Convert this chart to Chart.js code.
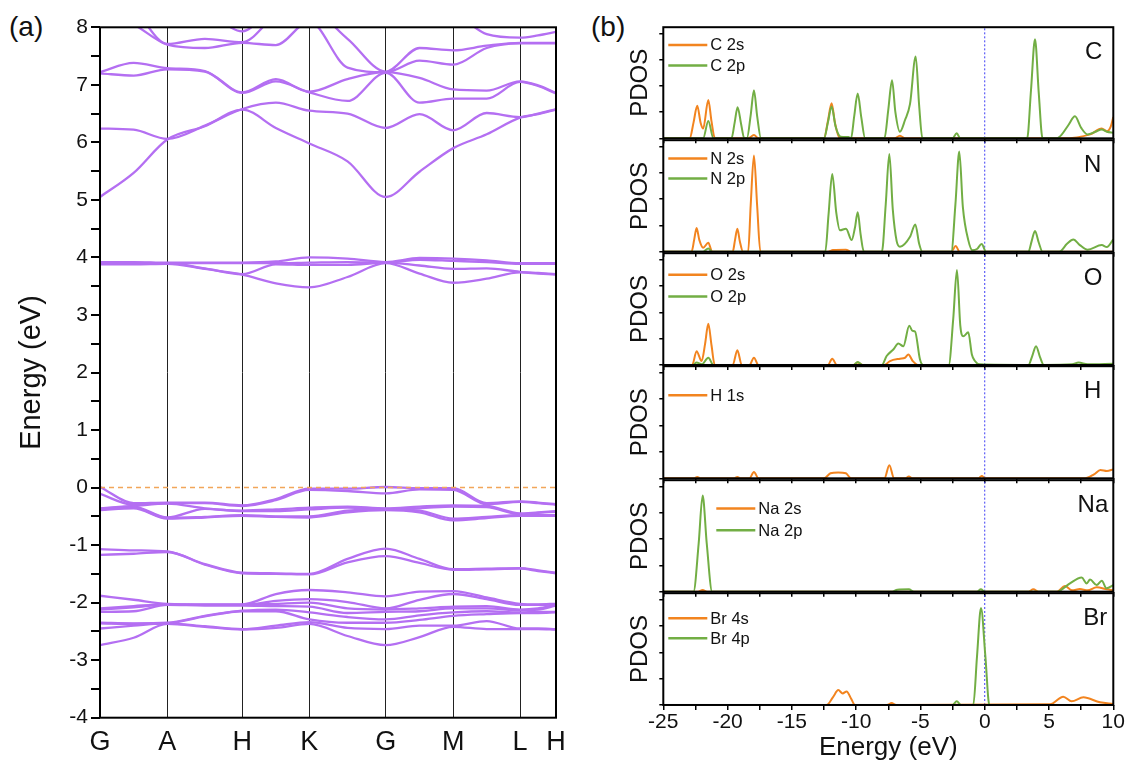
<!DOCTYPE html>
<html>
<head>
<meta charset="utf-8">
<title>Band structure and PDOS</title>
<script src="https://cdn.jsdelivr.net/npm/chart.js@4.4.1/dist/chart.umd.min.js"></script>
<style>
  html, body { margin: 0; padding: 0; background: #fff; }
  body { width: 1137px; height: 767px; position: relative; overflow: hidden;
         font-family: "Liberation Sans", Arial, sans-serif; }
  canvas { position: absolute; }
  .tag { position: absolute; font-size: 28px; line-height: 1; color: #111; }
</style>
</head>
<body>
<div class="tag" style="left:9px;top:13px">(a)</div>
<div class="tag" style="left:591px;top:13px">(b)</div>

<script>
// ---------- (a) band structure ----------
const kLabels = ['G', 'A', 'H', 'K', 'G', 'M', 'L', 'H'];
const kNodes  = [0, 0.1476, 0.3121, 0.4590, 0.6265, 0.7748, 0.9211, 1.0];
// path coordinate of every sampled k-point (nodes and segment midpoints)
const kGrid   = [0, 0.0738, 0.1476, 0.2299, 0.3121, 0.3856, 0.4590, 0.5428,
                 0.6265, 0.7007, 0.7748, 0.8480, 0.9211, 0.9606, 1.0];
const energyTicks = [-4, -3, -2, -1, 0, 1, 2, 3, 4, 5, 6, 7, 8];

// one row per k-point in kGrid, energies (eV) of each band in the group
const conductionHigh = [
  [5.05, 6.24, 7.20, 7.22, 8.30, 8.50, 8.70],
  [5.47, 6.22, 7.16, 7.38, 8.05, 8.30, 8.60],
  [6.05, 6.06, 7.27, 7.29, 7.70, 7.71, 8.40],
  [6.28, 6.29, 7.23, 7.24, 7.64, 7.80, 8.30],
  [6.57, 6.58, 6.86, 6.87, 7.73, 7.74, 7.93],
  [6.25, 6.69, 7.06, 7.10, 7.69, 8.20, 8.40],
  [5.98, 6.55, 6.87, 6.88, 8.10, 8.30, 8.50],
  [5.67, 6.50, 6.72, 7.10, 7.30, 7.80, 8.30],
  [5.05, 6.25, 7.21, 7.22, 7.22, 7.23, 8.10],
  [5.49, 6.49, 6.69, 7.12, 7.42, 7.64, 8.20],
  [5.90, 6.21, 6.76, 6.92, 7.35, 7.60, 8.20],
  [6.14, 6.51, 6.76, 6.90, 7.64, 7.68, 7.88],
  [6.43, 6.44, 7.05, 7.06, 7.72, 7.73, 7.82],
  [6.49, 6.50, 6.98, 6.99, 7.72, 7.73, 7.86],
  [6.57, 6.58, 6.85, 6.86, 7.72, 7.73, 7.92]
];
const conductionLow = [
  [3.88, 3.90, 3.91, 3.92],
  [3.88, 3.90, 3.91, 3.92],
  [3.89, 3.90, 3.90, 3.91],
  [3.80, 3.81, 3.90, 3.91],
  [3.70, 3.71, 3.90, 3.91],
  [3.55, 3.88, 3.90, 3.93],
  [3.48, 3.87, 3.91, 4.00],
  [3.66, 3.87, 3.92, 3.98],
  [3.90, 3.91, 3.91, 3.92],
  [3.72, 3.86, 3.96, 3.99],
  [3.56, 3.80, 3.94, 3.98],
  [3.63, 3.81, 3.92, 3.95],
  [3.74, 3.75, 3.89, 3.90],
  [3.72, 3.73, 3.89, 3.90],
  [3.70, 3.71, 3.89, 3.90]
];
const valenceTop = [
  [-0.39, -0.38, -0.37, -0.36, -0.11, 0.01],
  [-0.36, -0.35, -0.33, -0.32, -0.30, -0.27],
  [-0.54, -0.53, -0.52, -0.28, -0.27, -0.26],
  [-0.52, -0.51, -0.37, -0.36, -0.27, -0.26],
  [-0.49, -0.48, -0.41, -0.40, -0.32, -0.31],
  [-0.51, -0.50, -0.41, -0.38, -0.22, -0.20],
  [-0.52, -0.50, -0.38, -0.35, -0.04, -0.02],
  [-0.43, -0.40, -0.35, -0.33, -0.06, -0.02],
  [-0.39, -0.38, -0.37, -0.36, -0.10, 0.01],
  [-0.43, -0.40, -0.36, -0.33, -0.03, -0.01],
  [-0.57, -0.54, -0.33, -0.31, -0.04, -0.01],
  [-0.53, -0.51, -0.34, -0.32, -0.29, -0.27],
  [-0.49, -0.48, -0.46, -0.45, -0.25, -0.24],
  [-0.49, -0.48, -0.44, -0.43, -0.27, -0.26],
  [-0.49, -0.48, -0.42, -0.41, -0.30, -0.29]
];
const valenceMid = [
  [-1.17, -1.07], [-1.15, -1.09], [-1.12, -1.11], [-1.34, -1.33],
  [-1.49, -1.48], [-1.50, -1.49], [-1.51, -1.50], [-1.30, -1.24],
  [-1.19, -1.06], [-1.31, -1.24], [-1.43, -1.42], [-1.42, -1.41],
  [-1.41, -1.40], [-1.45, -1.44], [-1.49, -1.48]
];
const valenceLow = [
  [-2.74, -2.45, -2.36, -2.35, -2.16, -2.12, -2.10, -1.88],
  [-2.61, -2.40, -2.37, -2.36, -2.15, -2.08, -2.06, -1.95],
  [-2.37, -2.36, -2.36, -2.35, -2.04, -2.03, -2.03, -2.02],
  [-2.42, -2.41, -2.24, -2.23, -2.05, -2.04, -2.04, -2.03],
  [-2.47, -2.46, -2.15, -2.14, -2.05, -2.04, -2.04, -2.03],
  [-2.44, -2.40, -2.15, -2.12, -2.06, -2.02, -1.97, -1.85],
  [-2.37, -2.34, -2.29, -2.17, -2.07, -2.00, -1.94, -1.78],
  [-2.58, -2.44, -2.35, -2.25, -2.18, -2.10, -1.99, -1.82],
  [-2.74, -2.46, -2.35, -2.29, -2.16, -2.12, -2.10, -1.89],
  [-2.60, -2.40, -2.30, -2.22, -2.15, -2.10, -1.95, -1.81],
  [-2.42, -2.40, -2.23, -2.17, -2.10, -2.07, -1.85, -1.80],
  [-2.46, -2.32, -2.20, -2.15, -2.10, -2.06, -1.94, -1.91],
  [-2.46, -2.45, -2.18, -2.17, -2.13, -2.12, -2.04, -2.02],
  [-2.46, -2.45, -2.18, -2.16, -2.12, -2.10, -2.04, -2.03],
  [-2.47, -2.46, -2.17, -2.16, -2.05, -2.04, -2.03, -2.02]
];
const fermiLevel = 0;

// ---------- (b) projected DOS, [energy (eV), PDOS] ----------
const pdosTicks = [-25, -20, -15, -10, -5, 0, 5, 10];
const elements = ['C', 'N', 'O', 'H', 'Na', 'Br'];

const c2s = [[-25,0],[-22.95,0],[-22.65,1.2],[-22.36,2.5],[-22.1,1.2],[-21.9,0.75],[-21.5,2.93],[-21.25,1.3],[-21.0,0.05],[-18.4,0],[-17.95,0.25],[-17.6,0],[-12.5,0],[-12.2,1.3],[-11.91,2.68],[-11.65,1.2],[-11.3,0.05],[-7.0,0],[-6.6,0.2],[-6.2,0],[6.0,0],[8.2,0.3],[9.1,0.75],[9.5,0.55],[9.8,0.9],[10,1.63]];
const c2p = [[-25,0],[-21.9,0],[-21.5,1.33],[-21.1,0],[-19.7,0],[-19.45,1.2],[-19.22,2.38],[-18.95,1.1],[-18.7,0],[-18.5,0],[-18.2,1.8],[-17.95,3.68],[-17.7,1.7],[-17.4,0],[-12.5,0],[-12.2,1.2],[-11.91,2.43],[-11.6,0.9],[-11.2,0.12],[-10.6,0.1],[-10.4,0],[-10.15,1.7],[-9.88,3.43],[-9.6,1.6],[-9.3,0],[-7.8,0],[-7.5,2.2],[-7.21,4.45],[-6.95,2.0],[-6.6,0.5],[-6.2,1.4],[-5.81,2.63],[-5.37,6.25],[-5.1,2.5],[-4.85,0],[-2.5,0],[-2.18,0.38],[-1.9,0],[3.3,0],[3.6,3.7],[3.91,7.58],[4.2,3.5],[4.5,0],[5.6,0],[6.0,0.3],[6.5,1.0],[7.02,1.68],[7.5,0.8],[8.0,0.3],[8.6,0.5],[9.1,0.68],[9.5,0.5],[10,0.43]];
const n2s = [[-25,0],[-22.8,0],[-22.6,0.9],[-22.41,1.8],[-22.2,0.9],[-21.9,0.3],[-21.5,0.68],[-21.2,0],[-19.6,0],[-19.42,0.9],[-19.24,1.75],[-19.05,0.8],[-18.8,0],[-18.4,0],[-18.2,3.6],[-17.95,7.33],[-17.7,3.5],[-17.45,0],[-12.2,0],[-11.8,0.12],[-10.8,0.15],[-10.4,0],[-2.6,0],[-2.26,0.43],[-1.95,0],[10,0]];
const n2p = [[-25,0],[-21.9,0],[-21.5,0.25],[-21.2,0],[-12.4,0],[-12.15,2.8],[-11.86,5.93],[-11.55,3.0],[-11.26,1.63],[-10.79,1.75],[-10.35,0.88],[-10.1,1.8],[-9.88,3.0],[-9.65,1.3],[-9.4,0],[-8.0,0],[-7.7,3.6],[-7.42,7.45],[-7.15,3.2],[-6.85,0.8],[-6.59,0.38],[-5.81,1.13],[-5.40,2.08],[-5.1,0.6],[-4.85,0],[-2.6,0],[-2.28,3.6],[-1.98,7.63],[-1.7,3.4],[-1.28,0.88],[-0.95,0.1],[-0.6,0.2],[-0.24,0.58],[0.1,0],[3.4,0],[3.65,0.8],[3.91,1.58],[4.2,0.7],[4.5,0],[5.8,0],[6.4,0.6],[6.89,0.93],[7.4,0.5],[8.0,0.15],[9.1,0.5],[9.5,0.35],[10,0.93]];
const o2s = [[-25,0],[-22.75,0],[-22.41,1.05],[-22.02,0.3],[-21.75,1.6],[-21.5,3.13],[-21.25,1.5],[-21.0,0],[-19.6,0],[-19.24,1.13],[-18.9,0],[-18.3,0],[-17.95,0.55],[-17.6,0],[-12.2,0],[-11.86,0.48],[-11.5,0],[-10.2,0],[-9.88,0.18],[-9.5,0],[-7.8,0],[-7.37,0.3],[-6.59,0.48],[-6.2,0.55],[-5.94,0.8],[-5.6,0.3],[-5.2,0],[10,0]];
const o2p = [[-25,0],[-22.7,0],[-22.41,0.18],[-22.0,0.05],[-21.5,0.55],[-21.1,0],[-10.2,0],[-9.88,0.23],[-9.5,0],[-8.0,0],[-7.63,0.68],[-7.11,1.18],[-6.72,1.63],[-6.33,1.43],[-5.87,2.98],[-5.62,2.6],[-5.42,2.55],[-5.04,0.43],[-4.8,0],[-2.8,0],[-2.45,3.5],[-2.16,7.23],[-1.9,3.0],[-1.67,2.18],[-1.28,2.48],[-1.0,0.8],[-0.76,0.3],[-0.4,0.05],[3.4,0],[3.7,0.7],[3.99,1.43],[4.3,0.6],[4.6,0],[6.8,0.05],[7.3,0.18],[8.0,0.05],[10,0.1]];
const h1s = [[-25,0],[-22.6,0],[-22.36,0.1],[-22.1,0],[-19.5,0],[-19.24,0.1],[-19.0,0],[-18.3,0],[-17.95,0.48],[-17.6,0],[-12.5,0],[-12.0,0.38],[-11.4,0.45],[-10.8,0.38],[-10.4,0],[-7.8,0],[-7.42,1.0],[-7.05,0],[-6.2,0],[-5.9,0.13],[-5.6,0],[-0.5,0],[-0.24,0.18],[0.05,0],[7.8,0],[8.5,0.3],[9.0,0.63],[9.5,0.55],[10,0.68]];
const na2s = [[-25,0],[-22.3,0],[-21.94,0.13],[-21.6,0],[3.4,0],[3.78,0.18],[4.2,0],[5.6,0],[6.24,0.43],[6.8,0.1],[7.4,0.2],[8.0,0.1],[8.71,0.33],[9.5,0.18],[10,0.1]];
const na2p = [[-25,0],[-22.65,0],[-22.25,3.66],[-21.94,7.33],[-21.62,3.66],[-21.2,0],[-7.2,0],[-6.8,0.15],[-5.9,0.18],[-5.5,0],[-0.6,0],[-0.3,0.18],[0.0,0],[5.7,0],[6.11,0.25],[6.63,0.63],[7.54,1.08],[7.93,0.63],[8.19,0.93],[8.71,0.5],[9.1,0.83],[9.48,0.25],[10,0.5]];
const br4s = [[-25,0],[-12.3,0],[-11.8,0.6],[-11.39,1.13],[-11.05,0.88],[-10.74,1.03],[-10.4,0.5],[-10.09,0],[-7.6,0],[-7.24,0.15],[-6.9,0],[5.08,0.05],[6.11,0.63],[6.76,0.28],[7.67,0.58],[8.96,0.2],[10,0.08]];
const br4p = [[-25,0],[-2.5,0],[-2.18,0.28],[-1.85,0],[-0.89,0],[-0.6,3.7],[-0.29,7.38],[0.05,3.7],[0.36,0],[10,0]];

const orbitals = [
  [['C 2s', c2s], ['C 2p', c2p]],
  [['N 2s', n2s], ['N 2p', n2p]],
  [['O 2s', o2s], ['O 2p', o2p]],
  [['H 1s', h1s]],
  [['Na 2s', na2s], ['Na 2p', na2p]],
  [['Br 4s', br4s], ['Br 4p', br4p]]
];
</script>

<script>
const FONT = '"Liberation Sans", Arial, sans-serif';
const BAND = '#B46FF2';
const ORANGE = '#F2841F';
const GREEN = '#72AE44';
Chart.defaults.font.family = FONT;
Chart.defaults.color = '#111';

// box around each plotting area
const framePlugin = {
  id: 'frame',
  afterDraw(chart) {
    const { ctx, chartArea: a } = chart;
    ctx.save();
    ctx.strokeStyle = '#000';
    ctx.lineWidth = 2;
    ctx.strokeRect(a.left, a.top, a.right - a.left, a.bottom - a.top);
    ctx.restore();
  }
};

// in-panel legend and element name
const decoPlugin = {
  id: 'deco',
  afterDraw(chart, args, opts) {
    if (!opts || !opts.element) return;
    const { ctx, chartArea: a } = chart;
    ctx.save();
    ctx.textBaseline = 'middle';
    chart.data.datasets.filter(d => d.inLegend).forEach((d, j) => {
      const x = a.left + opts.x;
      const y = a.top + opts.y + j * opts.dy;
      ctx.strokeStyle = d.borderColor;
      ctx.lineWidth = 2.5;
      ctx.beginPath();
      ctx.moveTo(x, y);
      ctx.lineTo(x + 39, y);
      ctx.stroke();
      ctx.fillStyle = '#111';
      ctx.textAlign = 'left';
      ctx.font = '16.5px ' + FONT;
      ctx.fillText(d.label, x + 42, y + 1);
    });
    ctx.font = '24px ' + FONT;
    ctx.textAlign = 'right';
    ctx.fillStyle = '#111';
    ctx.fillText(opts.element, a.right - opts.er, a.top + 25);
    ctx.restore();
  }
};

function addCanvas(left, top, w, h) {
  const c = document.createElement('canvas');
  c.width = w; c.height = h;
  c.style.left = left + 'px';
  c.style.top = top + 'px';
  document.body.appendChild(c);
  return c;
}

// ----- band structure chart -----
const bandSets = [];
[conductionHigh, conductionLow, valenceTop, valenceMid, valenceLow].forEach(group => {
  const nb = group[0].length;
  for (let b = 0; b < nb; b++) {
    bandSets.push({
      data: kGrid.map((k, i) => ({ x: k, y: group[i][b] })),
      borderColor: BAND,
      borderWidth: 2.3,
      pointRadius: 0,
      cubicInterpolationMode: 'monotone',
      order: 1
    });
  }
});
bandSets.push({
  data: [{ x: kNodes[0], y: fermiLevel }, { x: kNodes[kNodes.length - 1], y: fermiLevel }],
  borderColor: '#F2A65A',
  borderWidth: 1.6,
  borderDash: [5, 4],
  pointRadius: 0,
  order: 0
});

new Chart(addCanvas(0, 0, 590, 767), {
  type: 'line',
  data: { datasets: bandSets },
  options: {
    responsive: false,
    animation: false,
    events: [],
    layout: { padding: { top: 27.3, right: 34, bottom: 0, left: 0 } },
    plugins: { legend: { display: false }, tooltip: { enabled: false } },
    scales: {
      x: {
        type: 'linear', min: 0, max: 1,
        afterBuildTicks: s => { s.ticks = kNodes.map(v => ({ value: v })); },
        afterFit: s => { s.height = 49.3; },
        ticks: {
          autoSkip: false, maxRotation: 0, padding: 9,
          font: { size: 27 }, color: '#111',
          callback: (v, i) => kLabels[i]
        },
        grid: { drawTicks: false, color: '#222', lineWidth: 1 },
        border: { display: false }
      },
      y: {
        min: -4, max: 8,
        afterFit: s => { s.width = 100; },
        ticks: {
          stepSize: 0.5, padding: 3, font: { size: 21 }, color: '#111',
          callback: v => energyTicks.includes(v) ? String(v) : ''
        },
        grid: { drawOnChartArea: false, tickLength: 9, color: '#000', lineWidth: 2 },
        border: { display: false },
        title: {
          display: true, text: 'Energy (eV)', font: { size: 29 }, color: '#111',
          padding: { top: 14.6, bottom: 0 }
        }
      }
    }
  },
  plugins: [framePlugin]
});

// ----- PDOS panels -----
const panelTop0 = 25, panelH = 113.33;
const legendPos = [
  { x: 5, y: 17.7, dy: 20.6, er: 11 },
  { x: 5, y: 18.4, dy: 20.0, er: 12 },
  { x: 5, y: 21.6, dy: 21.7, er: 11 },
  { x: 5, y: 29.0, dy: 20.0, er: 12 },
  { x: 53, y: 28.4, dy: 21.6, er: 5 },
  { x: 5, y: 25.0, dy: 20.0, er: 6 }
];

elements.forEach((el, i) => {
  const last = i === elements.length - 1;
  const pTop = panelTop0 + i * panelH;
  const cTop = Math.floor(pTop) - 8;
  const padTop = pTop - cTop;
  const cH = last ? 767 - cTop : 150;
  const xH = cH - padTop - panelH;

  const sets = orbitals[i].map(([label, pts]) => ({
    label,
    inLegend: true,
    data: pts,
    borderColor: label.endsWith('p') ? GREEN : ORANGE,
    borderWidth: 2,
    pointRadius: 0,
    cubicInterpolationMode: 'monotone',
    order: label.endsWith('p') ? 0 : 1
  }));
  sets.push({
    data: [[fermiLevel, 0], [fermiLevel, 8.5]],
    borderColor: '#3D3DF5',
    borderWidth: 1,
    borderDash: [2, 2],
    pointRadius: 0,
    order: 2
  });

  new Chart(addCanvas(590, cTop, 547, cH), {
    type: 'line',
    data: { datasets: sets },
    options: {
      responsive: false,
      animation: false,
      events: [],
      layout: { padding: { top: padTop, right: 23.7, bottom: 0, left: 0 } },
      plugins: {
        legend: { display: false }, tooltip: { enabled: false },
        deco: Object.assign({ element: el }, legendPos[i])
      },
      scales: {
        x: {
          type: 'linear', min: -25, max: 10,
          afterFit: s => { s.height = xH; },
          ticks: {
            stepSize: 2.5, autoSkip: false, maxRotation: 0, padding: 0,
            font: { size: 21 }, color: '#111',
            callback: v => (last && pdosTicks.includes(v)) ? String(v) : ''
          },
          grid: { drawOnChartArea: false, tickLength: 5, color: '#000', lineWidth: 1.5 },
          border: { display: false },
          title: {
            display: last, text: 'Energy (eV)', font: { size: 26 }, color: '#111',
            padding: { top: 0, bottom: 3.4 }
          }
        },
        y: {
          min: 0, max: 8.5,
          afterBuildTicks: s => { s.ticks = [0, 1, 2, 3, 4, 5, 6, 7, 8].map(v => ({ value: v })); },
          afterFit: s => { s.width = 73.3; },
          ticks: { callback: () => '' },
          grid: { drawOnChartArea: false, tickLength: 4, color: '#000', lineWidth: 1.5 },
          border: { display: false },
          title: {
            display: true, text: 'PDOS', font: { size: 24 }, color: '#111',
            padding: { top: 35.6, bottom: 0 }
          }
        }
      }
    },
    plugins: [framePlugin, decoPlugin]
  });
});
</script>
</body>
</html>
